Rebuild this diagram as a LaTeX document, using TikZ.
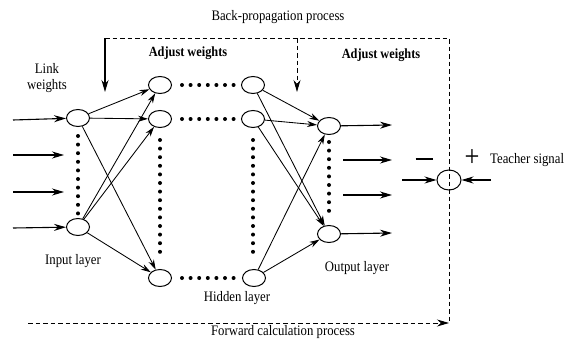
\documentclass[tikz,border=0pt]{standalone}
\usepackage{fontspec}
\setmainfont{Liberation Serif}[FakeStretch=0.88]
\usetikzlibrary{arrows.meta,shapes.geometric}
\begin{document}
\begin{tikzpicture}[x=1pt,y=-1pt,
 neuron/.style={ellipse,draw,line width=1pt,minimum width=23pt,minimum height=17pt,inner sep=0pt},
 conn/.style={line width=0.85pt,-{Stealth[length=10pt,width=6pt]}},
 sig/.style={line width=1.1pt,-{Stealth[length=12pt,width=7pt]}},
 dots/.style={line width=4pt,line cap=round,dash pattern=on 0pt off 8.6pt},
 dashline/.style={line width=0.9pt,dash pattern=on 4.5pt off 3pt},
 lbl/.style={font=\fontsize{14.5}{16.5}\selectfont,inner sep=0pt},
 blbl/.style={font=\bfseries\fontsize{14}{16}\selectfont,inner sep=0pt},
 sign/.style={font=\fontsize{30}{30}\selectfont,inner sep=0pt}]
\useasboundingbox (0,0) rectangle (571,340);

% neurons
\node[neuron] (i1) at (78,118) {};
\node[neuron] (i2) at (78,227) {};
\node[neuron] (ha) at (160,85) {};
\node[neuron] (hb) at (160,119) {};
\node[neuron] (hc) at (160,278) {};
\node[neuron] (ga) at (253,85) {};
\node[neuron] (gb) at (253,119) {};
\node[neuron] (gc) at (254,278) {};
\node[neuron] (o1) at (329,126) {};
\node[neuron] (o2) at (329,234) {};
\node[neuron,minimum width=24pt,minimum height=20pt] (s) at (449,180) {};

% dotted lines
\draw[dots] (78,136) -- (78,216);
\draw[dots] (160,140) -- (160,258);
\draw[dots] (253,140) -- (253,258);
\draw[dots] (329,142) -- (329,219);
\draw[dots] (182,85) -- (234,85);
\draw[dots] (182,119) -- (234,119);
\draw[dots] (182,278) -- (234,278);

% input -> hidden
\foreach \a in {i1,i2}
  \foreach \b in {ha,hb,hc}
    \draw[conn] (\a) -- (\b);
% hidden -> output
\foreach \a in {ga,gb,gc}
  \foreach \b in {o1,o2}
    \draw[conn] (\a) -- (\b);

% input signals
\coordinate (in1) at (13,120);
\coordinate (in2) at (13,155);
\coordinate (in2e) at (64,155);
\coordinate (in3) at (13,192);
\coordinate (in3e) at (64,192);
\coordinate (in4) at (13,228);
\draw[sig] (in1) -- (i1);
\draw[sig] (in2) -- (in2e);
\draw[sig] (in3) -- (in3e);
\draw[sig] (in4) -- (i2);

% output signals
\coordinate (out2) at (343,160);
\coordinate (out2e) at (392,160);
\coordinate (out3) at (343,195);
\coordinate (out3e) at (392,195);
\coordinate (out1e) at (392,125);
\coordinate (out4e) at (392,233);
\draw[sig] (o1) -- (out1e);
\draw[sig] (out2) -- (out2e);
\draw[sig] (out3) -- (out3e);
\draw[sig] (o2) -- (out4e);

% error signals
\coordinate (sl) at (402,180);
\coordinate (sr) at (491,180);
\draw[sig] (sl) -- (s);
\draw[sig] (sr) -- (s);

% back-propagation loop
\coordinate (tl) at (105,38);
\coordinate (tle) at (105,92);
\coordinate (tm) at (297,38);
\coordinate (tme) at (297,92);
\coordinate (tr) at (449,38);
\coordinate (br) at (449,323);
\coordinate (bl) at (28,323);
\draw[dashline] (tl) -- (tr) -- (br);
\draw[sig] (tl) -- (tle);
\draw[dashline,-{Stealth[length=12pt,width=7pt]}] (tm) -- (tme);
\draw[dashline,-{Stealth[length=12pt,width=7pt]}] (bl) -- (br);

% labels
\node[lbl] (bp) at (278,17) {Back-propagation process};
\node[blbl] (aw1) at (188,53) {Adjust weights};
\node[blbl] (aw2) at (381,55) {Adjust weights};
\node[lbl,align=center] (lw) at (47,78) {Link\\weights};
\node[lbl] (il) at (73,261) {Input layer};
\node[lbl] (hl) at (237,298) {Hidden layer};
\node[lbl] (ol) at (357,268) {Output layer};
\node[lbl] (fc) at (283,332) {Forward calculation process};
\node[lbl,anchor=west] (ts) at (490,160) {Teacher signal};
\node[inner sep=0pt] (mi) at (424,159) {\rule{17pt}{2.2pt}};
\node[sign] (pl) at (472,158) {+};
\end{tikzpicture}
\end{document}
